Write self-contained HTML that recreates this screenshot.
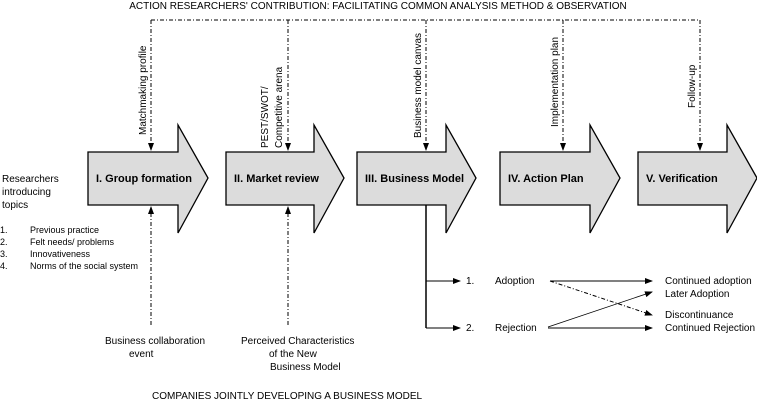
<!DOCTYPE html>
<html><head><meta charset="utf-8"><style>
html,body{margin:0;padding:0;background:#fff;}
svg{display:block;font-family:"Liberation Sans",Arial,sans-serif;}
</style></head><body>
<svg width="757" height="401" viewBox="0 0 757 401" xmlns="http://www.w3.org/2000/svg">
<defs>
<marker id="ah" markerWidth="8" markerHeight="8" refX="7" refY="4" orient="auto" markerUnits="userSpaceOnUse">
<path d="M0,1 L8,4 L0,7 Z" fill="#000"/></marker>
</defs>
<text x="378" y="9" font-size="10" text-anchor="middle">ACTION RESEARCHERS' CONTRIBUTION: FACILITATING COMMON ANALYSIS METHOD &amp; OBSERVATION</text>
<g fill="#dcdcdc" stroke="#000" stroke-width="1.3">
<path d="M88,152 H178 V125 L208,178 L178,233 V205 H88 Z"/>
<path d="M226,152 H314 V125 L344,178 L314,233 V205 H226 Z"/>
<path d="M357,152 H446 V125 L476,178 L446,233 V205 H357 Z"/>
<path d="M500,152 H590 V125 L620,178 L590,233 V205 H500 Z"/>
<path d="M638,152 H727 V125 L757,178 L727,233 V205 H638 Z"/>
</g>
<g font-size="11" font-weight="bold">
<text x="96" y="182">I. Group formation</text>
<text x="234" y="182">II. Market review</text>
<text x="365" y="182">III. Business Model</text>
<text x="508" y="182">IV. Action Plan</text>
<text x="646" y="182">V. Verification</text>
</g>
<g stroke="#000" stroke-width="1" fill="none" stroke-dasharray="4,2,1,2">
<path d="M151,20 H700"/>
<path d="M151,20 V150" marker-end="url(#ah)"/>
<path d="M288,20 V150" marker-end="url(#ah)"/>
<path d="M426,20 V150" marker-end="url(#ah)"/>
<path d="M563,20 V150" marker-end="url(#ah)"/>
<path d="M700,20 V150" marker-end="url(#ah)"/>
<path d="M151,325 V207" marker-end="url(#ah)"/>
<path d="M288,325 V207" marker-end="url(#ah)"/>
<path d="M550,281 L652,315" marker-end="url(#ah)"/>
</g>
<g font-size="10">
<text transform="translate(146,135) rotate(-90)">Matchmaking profile</text>
<text transform="translate(268,148) rotate(-90)">PEST/SWOT/</text>
<text transform="translate(282,148) rotate(-90)">Competitive arena</text>
<text transform="translate(421,138) rotate(-90)">Business model canvas</text>
<text transform="translate(558,127) rotate(-90)">Implementation plan</text>
<text transform="translate(695,108) rotate(-90)">Follow-up</text>
<text x="2" y="182">Researchers</text>
<text x="2" y="195">introducing</text>
<text x="2" y="208">topics</text>
<text x="105" y="344">Business collaboration</text>
<text x="129" y="357">event</text>
<text x="241" y="344">Perceived Characteristics</text>
<text x="269" y="357">of the New</text>
<text x="270" y="370">Business Model</text>
<text x="152" y="399">COMPANIES JOINTLY DEVELOPING A BUSINESS MODEL</text>
<text x="466" y="284">1.</text>
<text x="495" y="284">Adoption</text>
<text x="466" y="331">2.</text>
<text x="495" y="331">Rejection</text>
<text x="665" y="284">Continued adoption</text>
<text x="665" y="297">Later Adoption</text>
<text x="665" y="318">Discontinuance</text>
<text x="665" y="331">Continued Rejection</text>
</g>
<g font-size="9">
<text x="0" y="233">1.</text><text x="30" y="233">Previous practice</text>
<text x="0" y="245">2.</text><text x="30" y="245">Felt needs/ problems</text>
<text x="0" y="257">3.</text><text x="30" y="257">Innovativeness</text>
<text x="0" y="269">4.</text><text x="30" y="269">Norms of the social system</text>
</g>
<g stroke="#000" fill="none">
<path d="M426,205 V328" stroke-width="1.5"/>
<path d="M426,281 H460" marker-end="url(#ah)"/>
<path d="M426,328 H460" marker-end="url(#ah)"/>
<path d="M550,281 H652" marker-end="url(#ah)"/>
<path d="M548,328 H652" marker-end="url(#ah)"/>
<path d="M548,327 L652,292" stroke-width="0.8" marker-end="url(#ah)"/>
</g>
</svg>
</body></html>
